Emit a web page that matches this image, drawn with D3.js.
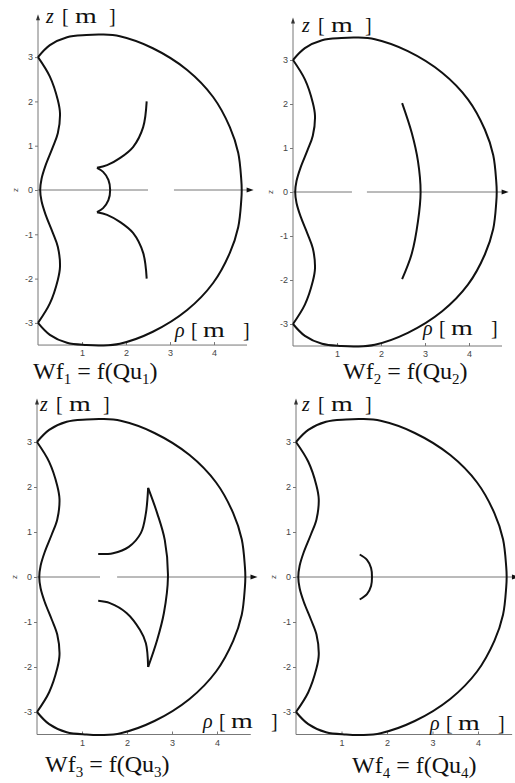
<!DOCTYPE html>
<html>
<head>
<meta charset="utf-8">
<script src="https://cdn.jsdelivr.net/npm/d3@7"></script>
<style>
  body { margin: 0; background: #fff; }
  .tick text { fill: #444; }
</style>
</head>
<body>
<div id="chart"></div>
<script>
var width = 515, height = 783;

// domain boundary (rho, z) in metres, same on the four plots
var outerBoundary = [[0, 3], [0.27, 3.27], [0.66, 3.45], [1.1, 3.5], [1.45, 3.51], [1.86, 3.47],
  [2.61, 3.2], [3.39, 2.71], [3.98, 2.1], [4.36, 1.42], [4.55, 0.84], [4.62, 0.23], [4.63, 0],
  [4.62, -0.23], [4.55, -0.84], [4.36, -1.42], [3.98, -2.1], [3.39, -2.71], [2.61, -3.2],
  [1.86, -3.47], [1.45, -3.51], [1.1, -3.5], [0.66, -3.45], [0.27, -3.27], [0, -3]];
var innerBoundary = [[0, 3], [0.27, 2.56], [0.45, 2.03], [0.5, 1.73], [0.45, 1.28], [0.33, 0.95],
  [0.17, 0.55], [0.08, 0.25], [0.05, 0], [0.08, -0.25], [0.17, -0.55], [0.33, -0.95], [0.45, -1.28],
  [0.5, -1.73], [0.45, -2.03], [0.27, -2.56], [0, -3]];

// wave fronts, one list of segments per plot
var wf1 = [
  [[2.47, 2], [2.39, 1.42], [2.16, 0.97], [1.86, 0.72], [1.57, 0.56], [1.34, 0.5]],
  [[1.34, 0.5], [1.48, 0.41], [1.6, 0.23], [1.64, 0], [1.6, -0.23], [1.48, -0.41], [1.34, -0.5]],
  [[1.34, -0.5], [1.57, -0.56], [1.86, -0.72], [2.16, -0.97], [2.39, -1.42], [2.47, -2]]
];
var wf2 = [
  [[2.48, 2.02], [2.7, 1.34], [2.84, 0.7], [2.9, 0], [2.84, -0.67], [2.7, -1.4], [2.48, -1.98]]
];
var wf3 = [
  [[1.36, 0.51], [1.69, 0.53], [2.04, 0.67], [2.31, 0.98], [2.42, 1.42], [2.47, 1.98]],
  [[2.47, 1.98], [2.67, 1.42], [2.84, 0.82], [2.91, 0], [2.82, -0.8], [2.67, -1.4], [2.47, -2]],
  [[2.47, -2], [2.42, -1.47], [2.29, -1.18], [1.99, -0.8], [1.62, -0.58], [1.36, -0.53]]
];
var wf4 = [
  [[1.4, 0.5], [1.56, 0.38], [1.65, 0.2], [1.67, 0], [1.65, -0.2], [1.56, -0.38], [1.4, -0.5]]
];
var fronts = [wf1, wf2, wf3, wf4];
var captionIndex = ['1', '2', '3', '4'];

var yTicks = [-3, -2, -1, 0, 1, 2, 3];
var xTicks = [1, 2, 3, 4];

// placement of each plot on the page
var panels = [
  { x0: 38, y0: 190, ux: 44, uy: 44.3, zLab: [46, 23], rLab: [175, 337], cap: [33, 379], gap: [2.5, 3.09] },
  { x0: 293, y0: 192, ux: 44, uy: 44, zLab: [302, 32], rLab: [423, 335], cap: [343, 379], gap: [1.34, 1.68] },
  { x0: 37, y0: 577, ux: 45, uy: 45, zLab: [40, 411], rLab: [203, 728], cap: [45, 772], gap: [1.4, 1.78] },
  { x0: 296, y0: 577, ux: 45.5, uy: 45, zLab: [302, 411], rLab: [430, 730], cap: [352, 773], gap: null }
];

var svg = d3.select('#chart')
  .append('svg')
  .attr('width', width)
  .attr('height', height)
  .style('font-family', '"Liberation Serif", "Times New Roman", serif');

function label(g, sym, pos, offs) {
  var parts = [sym, '[', 'm', ']'];
  parts.forEach(function (t, k) {
    var el = g.append('text')
      .attr('transform', 'translate(' + (pos[0] + offs[k]) + ',' + pos[1] + ')' + (t == 'm' ? ' scale(1.4,1)' : ''))
      .attr('font-size', 20)
      .attr('fill', '#111')
      .text(t);
    if (k == 0) el.attr('font-style', 'italic');
  });
}

panels.forEach(function (p, i) {
  var x = d3.scaleLinear().domain([0, 1]).range([p.x0, p.x0 + p.ux]);
  var y = d3.scaleLinear().domain([0, 1]).range([p.y0, p.y0 - p.uy]);
  var g = svg.append('g');

  // z = 0 line, with the scan gap
  var pieces = p.gap ? [[0, p.gap[0]], [p.gap[1], 4.82]] : [[0, 4.82]];
  pieces.forEach(function (s) {
    g.append('line')
      .attr('x1', x(s[0])).attr('x2', x(s[1]))
      .attr('y1', y(0)).attr('y2', y(0))
      .attr('stroke', '#777').attr('stroke-width', 1);
  });
  g.append('path')
    .attr('d', 'M' + (x(4.9)) + ',' + y(0) + 'l-7,-2.5v5z')
    .attr('fill', '#111');

  // vertical axis
  g.append('line')
    .attr('x1', x(0)).attr('x2', x(0))
    .attr('y1', y(-3.5)).attr('y2', y(3.9))
    .attr('stroke', '#777').attr('stroke-width', 1);
  g.append('path')
    .attr('d', 'M' + x(0) + ',' + (y(3.9) - 3) + 'l-2,6h4z')
    .attr('fill', '#333');

  var yAxis = d3.axisLeft(y).tickValues(yTicks).tickSize(3).tickPadding(2)
    .tickFormat(function (d) { return String(d); });
  var yG = g.append('g').attr('transform', 'translate(' + x(0) + ',0)').call(yAxis);
  yG.select('.domain').remove();
  yG.selectAll('line').attr('stroke', '#777');
  yG.selectAll('text').attr('font-size', 9).attr('font-family', '"Liberation Sans", Arial, sans-serif');

  // horizontal axis at the bottom
  g.append('line')
    .attr('x1', x(0)).attr('x2', x(4.75))
    .attr('y1', y(-3.5)).attr('y2', y(-3.5))
    .attr('stroke', '#777').attr('stroke-width', 1);
  var xAxis = d3.axisBottom(x).tickValues(xTicks).tickSizeInner(-3).tickSizeOuter(0).tickPadding(5)
    .tickFormat(function (d) { return String(d); });
  var xG = g.append('g').attr('transform', 'translate(0,' + y(-3.5) + ')').call(xAxis);
  xG.select('.domain').remove();
  xG.selectAll('line').attr('stroke', '#777');
  xG.selectAll('text').attr('font-size', 9).attr('font-family', '"Liberation Sans", Arial, sans-serif');

  // little rotated z next to the zero tick
  g.append('text')
    .attr('transform', 'translate(' + (x(0) - 20) + ',' + y(0) + ') rotate(-90)')
    .attr('text-anchor', 'middle')
    .attr('font-size', 8)
    .attr('font-family', '"Liberation Sans", Arial, sans-serif')
    .attr('fill', '#444')
    .text('z');

  var line = d3.line()
    .x(function (d) { return x(d[0]); })
    .y(function (d) { return y(d[1]); })
    .curve(d3.curveCatmullRom.alpha(0.5));

  [outerBoundary, innerBoundary].concat(fronts[i]).forEach(function (c) {
    g.append('path')
      .attr('d', line(c))
      .attr('fill', 'none')
      .attr('stroke', '#111')
      .attr('stroke-width', 2);
  });

  label(g, 'z', p.zLab, [0, 16, 29, 63]);
  label(g, '\u03c1', p.rLab, [0, 16, 28, 68]);

  var cap = g.append('text')
    .attr('x', p.cap[0]).attr('y', p.cap[1])
    .attr('font-size', 24)
    .attr('fill', '#111');
  cap.append('tspan').text('Wf');
  cap.append('tspan').attr('font-size', 15).attr('dy', 5).text(captionIndex[i]);
  cap.append('tspan').attr('dy', -5).text(' = f(Qu');
  cap.append('tspan').attr('font-size', 15).attr('dy', 5).text(captionIndex[i]);
  cap.append('tspan').attr('dy', -5).text(')');
});
</script>
</body>
</html>
